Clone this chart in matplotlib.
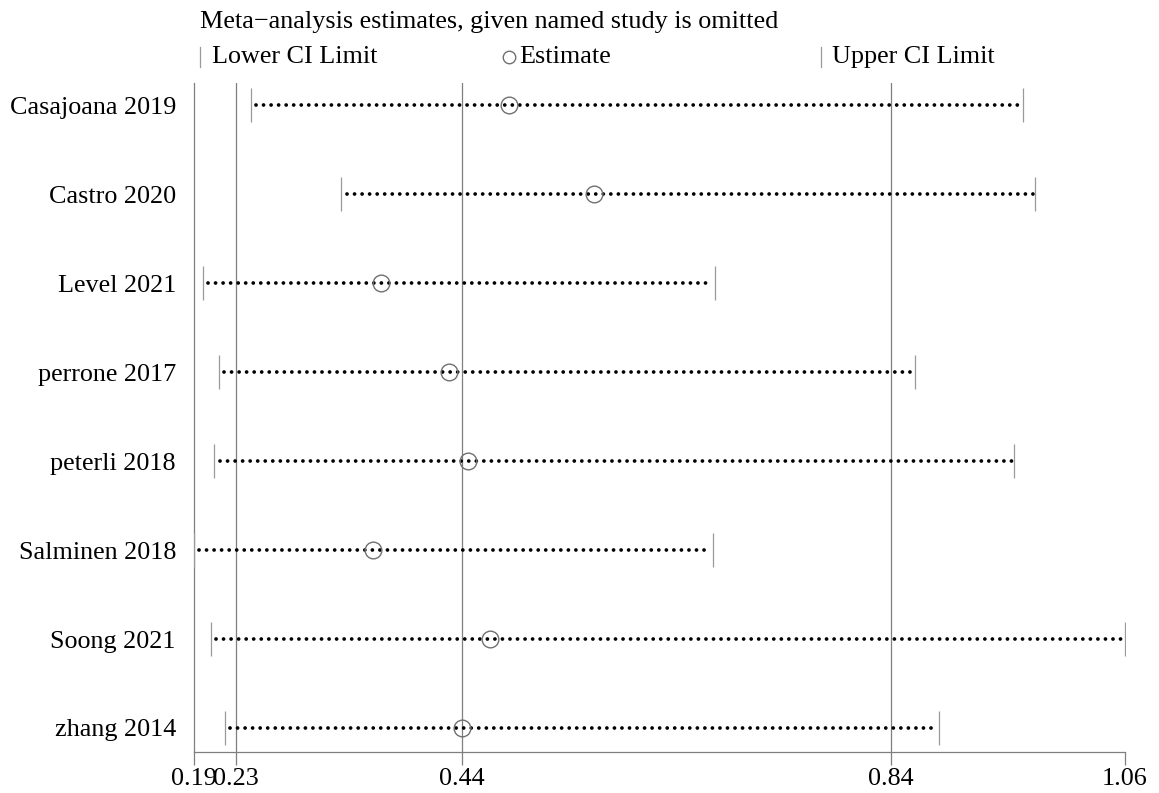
import matplotlib
matplotlib.use("Agg")
import matplotlib.pyplot as plt
from matplotlib.lines import Line2D

plt.rcParams['font.family'] = ['Liberation Serif', 'DejaVu Serif']

studies = ["Casajoana 2019", "Castro 2020", "Level 2021", "perrone 2017",
           "peterli 2018", "Salminen 2018", "Soong 2021", "zhang 2014"]
lower = [0.243, 0.328, 0.198, 0.213, 0.209, 0.190, 0.206, 0.219]
estimate = [0.485, 0.565, 0.365, 0.429, 0.447, 0.358, 0.467, 0.441]
upper = [0.966, 0.978, 0.678, 0.865, 0.958, 0.676, 1.062, 0.888]

xticks = [0.19, 0.229, 0.441, 0.843, 1.062]
xticklabels = ["0.19", "0.23", "0.44", "0.84", "1.06"]
ref_lines = [0.229, 0.441, 0.843]

FS = 18.8
W, H = 1159, 793
fig = plt.figure(figsize=(W / 100, H / 100), dpi=100)
ax = fig.add_axes([194 / W, 1 - 752 / H, (1125 - 194) / W, (752 - 83) / H])

n = len(studies)
ypos = list(range(n, 0, -1))

for x in ref_lines:
    ax.axvline(x, color='#7f7f7f', lw=0.9, zorder=1)

for y, lo, est, up in zip(ypos, lower, estimate, upper):
    ax.plot([lo + 0.005, up - 0.002], [y, y], color='black', lw=2.7,
            linestyle=(0, (0.01, 2.0)), dash_capstyle='round', zorder=2)
    ax.plot([lo, up], [y, y], linestyle='none', marker='|', markersize=24,
            markeredgewidth=0.9, color='#9a9a9a', zorder=3)
    ax.plot([est], [y], linestyle='none', marker='o', markersize=12,
            markerfacecolor='none', markeredgecolor='#707070', markeredgewidth=1.0, zorder=4)

ax.set_xlim(0.19, 1.062)
ax.set_ylim(0.73, 8.25)
ax.set_yticks(ypos)
ax.set_yticklabels(studies, fontsize=FS)
ax.set_xticks(xticks)
ax.set_xticklabels(xticklabels, fontsize=FS)
ax.tick_params(axis='y', length=0, pad=13)
ax.tick_params(axis='x', length=9.5, width=0.9, color='#7f7f7f', pad=2, direction='out')
for s in ['top', 'right']:
    ax.spines[s].set_visible(False)
for s in ['left', 'bottom']:
    ax.spines[s].set_color('#7f7f7f')
    ax.spines[s].set_linewidth(0.9)

# Title and legend
fig.text(200 / W, 1 - 22 / H, "Meta\u2212analysis estimates, given named study is omitted",
         fontsize=FS, ha='left', va='center')
ly = 1 - 57 / H
fig.add_artist(Line2D([200 / W, 200 / W], [ly - 10 / H, ly + 10 / H], color='#9a9a9a', lw=0.9))
fig.text(212 / W, ly, "Lower CI Limit", fontsize=FS, ha='left', va='center')
fig.add_artist(Line2D([509 / W], [ly], marker='o', markersize=9, markerfacecolor='none',
                      markeredgecolor='#707070', markeredgewidth=1.0, linestyle='none'))
fig.text(519 / W, ly, "Estimate", fontsize=FS, ha='left', va='center')
fig.add_artist(Line2D([821 / W, 821 / W], [ly - 10 / H, ly + 10 / H], color='#9a9a9a', lw=0.9))
fig.text(832 / W, ly, "Upper CI Limit", fontsize=FS, ha='left', va='center')

fig.savefig("out.png", dpi=100, facecolor='white')
